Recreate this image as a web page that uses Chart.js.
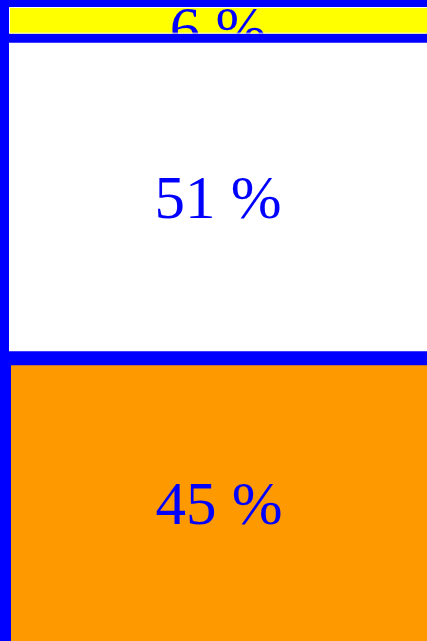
<!DOCTYPE html>
<html>
<head>
<meta charset="utf-8">
<script src="https://cdn.jsdelivr.net/npm/chart.js@4/dist/chart.umd.min.js"></script>
<style>
  html, body { margin: 0; padding: 0; background: #0000ff; overflow: hidden; }
  #wrap { width: 427px; height: 641px; }
</style>
</head>
<body>
<div id="wrap"><canvas id="c" width="427" height="641"></canvas></div>
<script>
// ---- data ----
const categories = ['Anteil'];
const orangeValues = [45];   // bottom segment
const whiteValues  = [51];   // middle segment
const yellowValues = [6];    // top segment
const segmentLabels = ['45 %', '51 %', '6 %'];
const axisMax = 102;

const BLUE = '#0000ff';

const labelPlugin = {
  id: 'segLabels',
  afterDatasetsDraw(chart) {
    const ctx = chart.ctx;
    chart.data.datasets.forEach((ds, i) => {
      const meta = chart.getDatasetMeta(i);
      meta.data.forEach((el) => {
        const p = el.getProps(['x', 'y', 'base', 'width'], true);
        const bw = ds.borderWidth;
        const top = Math.min(p.y, p.base) + bw.top;
        const bottom = Math.max(p.y, p.base) - bw.bottom;
        const left = p.x - p.width / 2 + bw.left;
        const right = p.x + p.width / 2 - bw.right;
        ctx.save();
        ctx.beginPath();
        ctx.rect(left, top, right - left, bottom - top);
        ctx.clip();
        const size = 61;
        const glyphH = size * 0.68;
        ctx.font = size + 'px "Liberation Serif", "DejaVu Serif", serif';
        ctx.fillStyle = BLUE;
        ctx.textAlign = 'center';
        ctx.textBaseline = 'alphabetic';
        let baseY;
        if (bottom - top < glyphH + 6) {
          baseY = top + 1 + glyphH;      // too short: show the top of the label
        } else {
          baseY = (top + bottom) / 2 + glyphH / 2;
        }
        ctx.fillText(segmentLabels[i], (left + right) / 2, baseY);
        if (ds.innerLine) {
          ctx.strokeStyle = ds.innerLine;
          ctx.lineWidth = 1;
          ctx.beginPath();
          ctx.moveTo(right + 2, top + 0.5);
          ctx.lineTo(left + 0.5, top + 0.5);
          ctx.lineTo(left + 0.5, bottom - 0.5);
          ctx.lineTo(right + 2, bottom - 0.5);
          ctx.stroke();
        }
        ctx.restore();
      });
    });
  }
};

new Chart(document.getElementById('c'), {
  type: 'bar',
  data: {
    labels: categories,
    datasets: [
      { data: orangeValues, backgroundColor: '#ff9900', borderColor: BLUE,
        borderWidth: { top: 7, left: 11, bottom: 0, right: 0 }, borderSkipped: false },
      { data: whiteValues, backgroundColor: '#ffffff', borderColor: BLUE,
        borderWidth: { top: 5, left: 9, bottom: 7, right: 0 }, borderSkipped: false },
      { data: yellowValues, backgroundColor: '#ffff00', borderColor: BLUE, innerLine: '#ffffff',
        borderWidth: { top: 7, left: 9, bottom: 4, right: 0 }, borderSkipped: false }
    ]
  },
  options: {
    responsive: false,
    animation: false,
    layout: { padding: 0 },
    plugins: { legend: { display: false }, tooltip: { enabled: false } },
    datasets: { bar: { barPercentage: 1, categoryPercentage: 1, inflateAmount: 0 } },
    scales: {
      x: { stacked: true, display: false },
      y: { stacked: true, display: false, min: 0, max: axisMax }
    }
  },
  plugins: [labelPlugin]
});
</script>
</body>
</html>
